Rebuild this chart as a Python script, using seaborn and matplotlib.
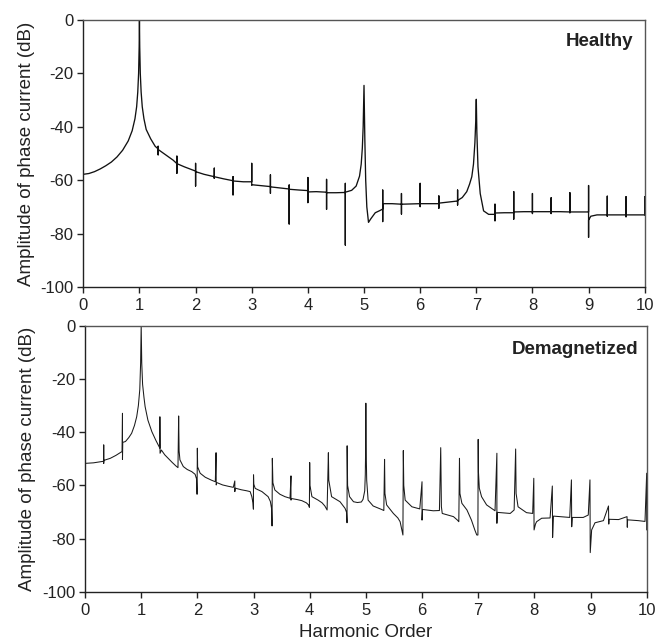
import matplotlib
matplotlib.use("Agg")
import matplotlib.pyplot as plt
import seaborn as sns
import pandas as pd

# ---- Healthy spectrum (harmonic order, amplitude dB) ----
healthy_order = [
    0.00, 0.10, 0.20, 0.30, 0.40, 0.50, 0.60, 0.70, 0.80, 0.87, 0.92, 0.95, 0.97, 0.985, 0.995, 1.00,
    1.005, 1.015, 1.03, 1.05, 1.08, 1.12, 1.20, 1.28,
    1.333, 1.333, 1.333, 1.333, 1.40, 1.50, 1.60,
    1.667, 1.667, 1.667, 1.667, 1.80, 1.90,
    2.0, 2.0, 2.0, 2.0, 2.15,
    2.333, 2.333, 2.333, 2.333, 2.5,
    2.667, 2.667, 2.667, 2.667, 2.85,
    3.0, 3.0, 3.0, 3.0, 3.15,
    3.333, 3.333, 3.333, 3.333, 3.5,
    3.667, 3.667, 3.667, 3.667, 3.85,
    4.0, 4.0, 4.0, 4.0, 4.15,
    4.333, 4.333, 4.333, 4.333, 4.5,
    4.667, 4.667, 4.667, 4.667, 4.78, 4.86, 4.92, 4.95, 4.97, 4.985, 5.0,
    5.015, 5.03, 5.05, 5.08, 5.12, 5.20, 5.29,
    5.333, 5.333, 5.333, 5.333, 5.5,
    5.667, 5.667, 5.667, 5.667, 5.85,
    6.0, 6.0, 6.0, 6.0, 6.15,
    6.333, 6.333, 6.333, 6.333, 6.5,
    6.667, 6.667, 6.667, 6.667, 6.75, 6.83, 6.88, 6.92, 6.95, 6.975, 6.99, 7.0,
    7.01, 7.03, 7.07, 7.13, 7.22,
    7.333, 7.333, 7.333, 7.333, 7.5,
    7.667, 7.667, 7.667, 7.667, 7.85,
    8.0, 8.0, 8.0, 8.0, 8.15,
    8.333, 8.333, 8.333, 8.333, 8.5,
    8.667, 8.667, 8.667, 8.667, 8.85,
    9.0, 9.0, 9.0, 9.0, 9.04, 9.15,
    9.333, 9.333, 9.333, 9.333, 9.5,
    9.667, 9.667, 9.667, 9.667, 9.85,
    10.0, 10.0, 10.0,
]
healthy_db = [
    -57.8, -57.5, -56.8, -55.8, -54.6, -53.2, -51.3, -48.8, -45.3, -41.5, -37.0, -32.5, -27.0, -20.0, -10.0, 0.0,
    -10.0, -20.0, -27.0, -32.5, -37.0, -41.0, -44.5, -47.3,
    -48.3, -47.3, -50.5, -48.5, -49.5, -51.0, -52.5,
    -53.8, -51.0, -57.4, -53.8, -55.0, -55.8,
    -56.6, -53.7, -62.2, -56.8, -57.8,
    -58.7, -55.5, -59.3, -58.7, -59.5,
    -60.2, -58.7, -65.5, -60.3, -60.6,
    -60.6, -53.7, -61.8, -61.7, -62.0,
    -62.4, -58.0, -64.9, -62.5, -62.9,
    -63.3, -61.8, -76.4, -63.4, -63.7,
    -63.9, -59.0, -68.4, -64.4, -64.3,
    -64.5, -59.7, -70.9, -64.7, -64.7,
    -64.6, -61.2, -84.3, -64.5, -63.8, -62.2, -58.5, -54.0, -48.0, -40.0, -24.5,
    -45.0, -60.0, -70.0, -75.8, -74.5, -72.2, -71.3,
    -70.8, -63.7, -75.5, -68.8, -68.8,
    -69.0, -65.0, -72.7, -69.0, -68.9,
    -68.8, -61.2, -69.9, -68.8, -68.8,
    -68.8, -65.9, -70.5, -68.6, -68.2,
    -67.8, -63.7, -69.3, -67.6, -66.5, -64.3, -61.5, -58.7, -54.0, -46.0, -38.0, -29.7,
    -42.0, -55.0, -65.0, -71.5, -72.8,
    -72.8, -69.0, -75.2, -72.3, -72.2,
    -72.2, -64.3, -74.6, -71.9, -71.8,
    -71.8, -65.0, -72.5, -71.8, -71.8,
    -71.8, -66.6, -72.5, -71.8, -71.8,
    -71.9, -64.7, -72.2, -71.9, -71.9,
    -71.9, -62.0, -81.4, -75.0, -73.5, -73.0,
    -73.0, -66.0, -73.5, -73.0, -73.0,
    -73.0, -66.2, -73.7, -73.0, -73.0,
    -73.0, -66.2, -73.0,
]

# ---- Demagnetized spectrum ----
demag_order = [
    0.00, 0.15, 0.30, 0.333, 0.333, 0.333, 0.333, 0.45, 0.55, 0.64,
    0.66, 0.667, 0.667, 0.672, 0.72, 0.78, 0.83, 0.88, 0.92, 0.95, 0.975, 0.99, 1.0,
    1.01, 1.025, 1.05, 1.07, 1.12, 1.19, 1.26, 1.32,
    1.333, 1.333, 1.336, 1.36, 1.42, 1.48, 1.55, 1.62, 1.655,
    1.667, 1.675, 1.69, 1.75, 1.82, 1.9, 1.96, 1.985,
    1.995, 2.0, 2.005, 2.05, 2.14, 2.25, 2.32,
    2.333, 2.336, 2.345, 2.45, 2.55, 2.64,
    2.667, 2.667, 2.675, 2.78, 2.88, 2.94, 2.97, 2.99,
    2.998, 3.0, 3.005, 3.03, 3.15, 3.26, 3.30, 3.32,
    3.33, 3.335, 3.345, 3.38, 3.47, 3.56, 3.65,
    3.667, 3.667, 3.675, 3.78, 3.86, 3.94, 3.98, 3.995,
    4.0, 4.005, 4.04, 4.15, 4.22, 4.27, 4.31,
    4.333, 4.34, 4.39, 4.54, 4.63, 4.655,
    4.665, 4.667, 4.675, 4.71, 4.78, 4.85, 4.92, 4.95, 4.98, 4.99, 4.997, 5.0,
    5.004, 5.015, 5.04, 5.13, 5.28, 5.32,
    5.333, 5.34, 5.37, 5.49, 5.57, 5.61, 5.64, 5.66,
    5.667, 5.675, 5.70, 5.82, 5.96,
    6.0, 6.0, 6.01, 6.2, 6.31,
    6.333, 6.345, 6.36, 6.56, 6.63, 6.655,
    6.667, 6.675, 6.71, 6.80, 6.88, 6.94, 6.975, 6.995,
    7.0, 7.005, 7.02, 7.06, 7.15, 7.30,
    7.333, 7.333, 7.34, 7.45, 7.57, 7.64,
    7.667, 7.675, 7.71, 7.86, 7.97,
    7.99, 7.995, 8.02, 8.04, 8.13, 8.28,
    8.32, 8.325, 8.34, 8.63,
    8.66, 8.665, 8.675, 8.87, 8.96,
    8.99, 8.995, 9.02, 9.08, 9.23,
    9.32, 9.325, 9.33, 9.5,
    9.65, 9.655, 9.66, 9.85, 9.97,
    10.0, 10.0,
]
demag_db = [
    -51.7, -51.5, -51.0, -50.9, -44.8, -51.7, -50.6, -49.8, -48.7, -47.5,
    -47.3, -32.9, -50.2, -43.8, -43.5, -42.0, -40.4, -37.5, -34.2, -30.0, -24.0, -14.0, 0.0,
    -14.0, -22.0, -27.0, -30.4, -35.5, -39.8, -43.0, -45.4,
    -46.0, -34.2, -47.9, -46.7, -48.5, -49.8, -51.3, -52.7, -53.3,
    -33.9, -47.0, -50.4, -52.9, -54.0, -54.8, -55.8, -57.5,
    -63.3, -46.0, -53.0, -55.4, -56.9, -58.0, -58.6,
    -47.7, -59.8, -58.9, -59.8, -60.3, -60.7,
    -58.3, -62.3, -61.0, -61.6, -62.0, -62.3, -64.2, -66.5,
    -68.9, -56.0, -59.5, -61.1, -62.3, -64.2, -66.0, -68.5,
    -75.2, -49.8, -59.0, -61.7, -63.3, -64.2, -64.8,
    -56.4, -65.5, -64.9, -65.3, -65.7, -66.5, -67.3, -68.2,
    -51.4, -60.0, -64.2, -65.5, -66.5, -67.7, -69.2,
    -47.7, -58.0, -64.2, -66.1, -68.6, -70.0,
    -74.0, -45.1, -60.0, -64.2, -66.1, -66.4, -66.2, -65.2, -62.0, -56.0, -45.0, -29.1,
    -45.0, -58.0, -65.5, -67.7, -69.0, -69.4,
    -50.2, -63.0, -67.3, -70.5, -72.2, -73.6, -76.7, -78.6,
    -46.9, -60.0, -65.5, -68.0, -68.8,
    -58.6, -73.0, -69.0, -69.5, -69.4,
    -45.8, -68.0, -70.5, -71.7, -73.0, -73.6,
    -49.8, -63.0, -66.7, -69.2, -73.0, -76.7, -78.6, -78.6,
    -42.7, -55.0, -61.0, -64.2, -67.3, -69.5,
    -47.9, -74.2, -70.1, -70.3, -70.5, -69.2,
    -46.3, -63.0, -68.0, -70.2, -70.5,
    -57.3, -76.7, -74.5, -73.6, -72.3, -72.2,
    -60.2, -79.5, -71.5, -72.0,
    -57.9, -75.5, -72.0, -72.0, -71.1,
    -57.9, -85.2, -76.7, -74.0, -73.2,
    -67.7, -74.5, -72.7, -72.8,
    -71.7, -75.7, -72.9, -73.2, -73.5,
    -55.4, -76.7,
]

x_ticks = [0, 1, 2, 3, 4, 5, 6, 7, 8, 9, 10]
y_ticks = [-100, -80, -60, -40, -20, 0]
panel_labels = ["Healthy", "Demagnetized"]
y_label = "Amplitude of phase current (dB)"
x_label = "Harmonic Order"

sns.set_style("ticks")
plt.rcParams["font.family"] = ["Liberation Sans", "DejaVu Sans"]

fig = plt.figure(figsize=(6.57, 6.43), dpi=100)
ax1 = fig.add_axes([0.1268, 0.5537, 0.8545, 0.4152])
ax2 = fig.add_axes([0.1294, 0.0793, 0.8549, 0.4142])

df_h = pd.DataFrame({"order": healthy_order, "db": healthy_db})
df_d = pd.DataFrame({"order": demag_order, "db": demag_db})

sns.lineplot(data=df_h, x="order", y="db", ax=ax1, estimator=None, sort=False,
             color="#111111", linewidth=0.95)
sns.lineplot(data=df_d, x="order", y="db", ax=ax2, estimator=None, sort=False,
             color="#1a1a1a", linewidth=0.75)

for ax, lab, tx, ty in zip([ax1, ax2], panel_labels, [0.98, 0.985], [0.918, 0.91]):
    ax.set_xlim(0, 10)
    ax.set_ylim(-100, 0)
    ax.set_xticks(x_ticks)
    ax.set_yticks(y_ticks)
    ax.set_xticklabels([str(t) for t in x_ticks])
    ax.set_yticklabels([str(t) for t in y_ticks])
    ax.tick_params(axis="both", direction="out", length=4, width=1.0,
                   labelsize=12, colors="#222222", pad=3)
    ax.tick_params(axis="x", pad=4)
    ax.tick_params(top=False, right=False)
    for s in ["left", "bottom"]:
        ax.spines[s].set_color("#222222")
        ax.spines[s].set_linewidth(1.0)
    for s in ["top", "right"]:
        ax.spines[s].set_visible(True)
        ax.spines[s].set_color("#555555")
        ax.spines[s].set_linewidth(1.0)
    ax.set_ylabel(y_label, fontsize=13.5, color="#222222", labelpad=4)
    ax.text(tx, ty, lab, transform=ax.transAxes,
            ha="right", va="center", fontsize=13.5, fontweight="bold", color="#222222")

ax1.set_xlabel("")
ax2.set_xlabel(x_label, fontsize=13.5, color="#222222", labelpad=4)

fig.savefig("out.png", dpi=100)
